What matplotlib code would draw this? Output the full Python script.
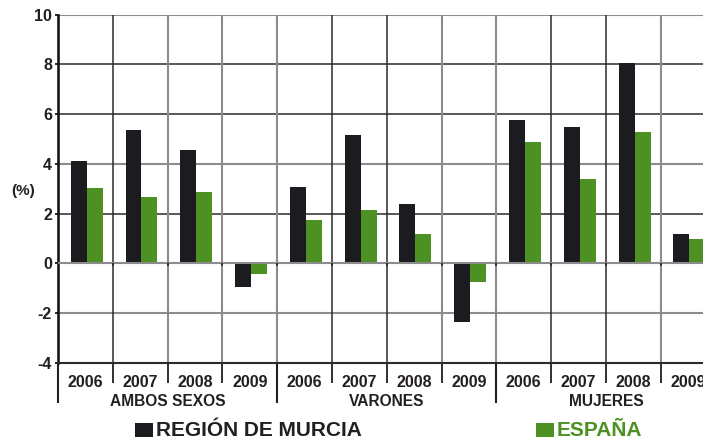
import matplotlib
matplotlib.use("Agg")
import matplotlib.pyplot as plt
from matplotlib.patches import Rectangle
import numpy as np

# ---- data ----
groups = ["AMBOS SEXOS", "VARONES", "MUJERES"]
years = ["2006", "2007", "2008", "2009"]
series_names = ["REGIÓN DE MURCIA", "ESPAÑA"]
murcia = [4.1, 5.35, 4.55, -0.97, 3.05, 5.15, 2.37, -2.38, 5.75, 5.47, 8.05, 1.16]
espana = [3.04, 2.65, 2.85, -0.44, 1.76, 2.16, 1.16, -0.77, 4.87, 3.38, 5.27, 0.96]
yticks = [-4, -2, 0, 2, 4, 6, 8, 10]

# ---- style ----
BLACK = "#1c1b20"
GREEN = "#4c9122"
TXT = "#231f20"
GRAY = "#8c8c8c"
DARK = "#2b2b2b"
FONT = "Liberation Sans"
plt.rcParams["font.family"] = [FONT, "DejaVu Sans"]

W, H = 703, 437
fig = plt.figure(figsize=(W / 100, H / 100), dpi=100)
cat_w = 54.79
ax = fig.add_axes([58 / W, 74.3 / H, 12 * cat_w / W, 348 / H])
ax.set_xlim(0, 12)
ax.set_ylim(-4, 10)

n = len(murcia)
idx = np.arange(n)
bw = 0.292
off = 0.232

# grid lines
hcols = {10: GRAY, 8: DARK, 6: DARK, 4: GRAY, 2: DARK, 0: GRAY, -2: GRAY}
for yv, c in hcols.items():
    lw = 1.5 if c == GRAY else 1.1
    z = 3 if yv == 0 else 0.5
    ax.axhline(yv, color=c, lw=lw, zorder=z)
vcols = [DARK, GRAY, GRAY, GRAY, DARK, DARK, GRAY, GRAY, DARK, DARK, GRAY]
for i, c in enumerate(vcols, start=1):
    ax.axvline(i, color=c, lw=1.5 if c == GRAY else 1.1, zorder=0.5)

# bars
ax.bar(idx + off, murcia, width=bw, align="edge", color=BLACK, zorder=2,
       label=series_names[0])
ax.bar(idx + off + bw, espana, width=bw, align="edge", color=GREEN, zorder=2,
       label=series_names[1])

# small marks below zero line
ax.vlines(np.arange(1, 12), -0.12, 0, color=DARK, lw=1.3, zorder=3)

# spines
for s in ["top", "right"]:
    ax.spines[s].set_visible(False)
ax.spines["left"].set_linewidth(1.9)
ax.spines["left"].set_color("#161616")
ax.spines["bottom"].set_linewidth(1.5)
ax.spines["bottom"].set_color(DARK)

# y ticks
ax.set_yticks(yticks)
ax.set_yticklabels([str(v) for v in yticks], fontsize=11.5, fontweight="bold",
                   color=TXT)
ax.tick_params(axis="y", length=2.4, width=1.3, pad=2, color="#161616")
ax.set_xticks([])

# category labels
tr = ax.get_xaxis_transform()
for g in range(len(groups)):
    for j, yr in enumerate(years):
        k = g * len(years) + j
        ax.text(k + 0.5, -0.0698, yr, transform=tr, ha="center", va="baseline",
                fontsize=11.5, fontweight="bold", color=TXT, clip_on=False)
    ax.text(g * len(years) + len(years) / 2, -0.1244, groups[g], transform=tr,
            ha="center", va="baseline", fontsize=11.2, fontweight="bold",
            color=TXT, clip_on=False)

# separators below axis
for i in range(13):
    low = -0.115 if i % 4 == 0 else -0.059
    ax.plot([i, i], [0, low], transform=tr, color=TXT, lw=1.5 if i % 4 == 0 else 1.3,
            clip_on=False, solid_capstyle="butt")

# y-axis unit label
fig.text(23.5 / W, 1 - 191 / H, "(%)", ha="center", va="center", fontsize=11,
         fontweight="bold", color=TXT)

# legend (manual)
leg = [(135, 155.7, BLACK, TXT, series_names[0]),
       (536, 556.7, GREEN, GREEN, series_names[1])]
for sx, tx, fc, tc, lab in leg:
    fig.patches.append(Rectangle((sx / W, (H - 441) / H), 17.7 / W, 17.7 / H,
                                 transform=fig.transFigure, facecolor=fc,
                                 edgecolor="none"))
    fig.text(tx / W, (H - 436.3) / H, lab, ha="left", va="baseline",
             fontsize=15, fontweight="bold", color=tc)

fig.savefig("out.png", dpi=100)
